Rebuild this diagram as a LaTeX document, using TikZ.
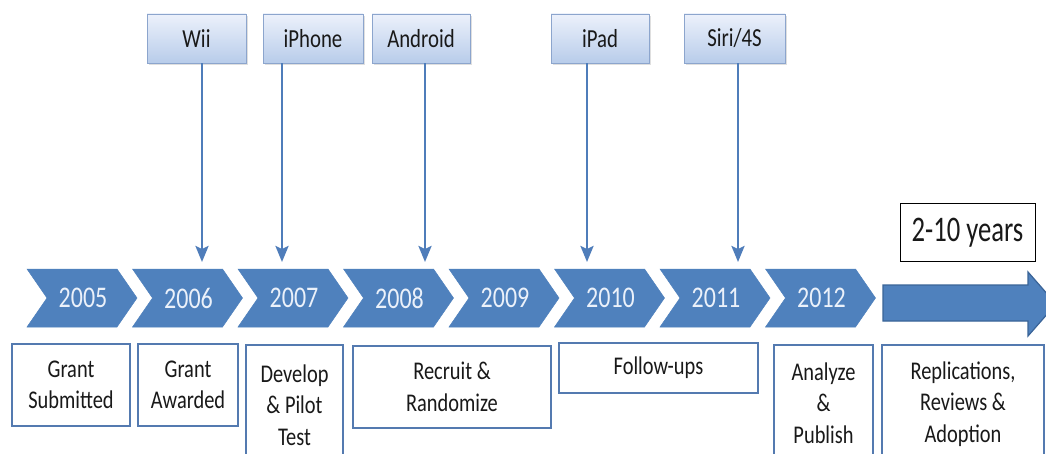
\documentclass[tikz,border=0pt]{standalone}
\usepackage{fontspec}
\setmainfont{Carlito}
\newfontfamily\nfont{Carlito}[FakeStretch=0.8]
\newfontfamily\dfont{Carlito}[FakeStretch=0.74]
\usetikzlibrary{arrows.meta,shadows,calc}
\definecolor{chev}{RGB}{79,129,189}
\definecolor{chevline}{RGB}{58,100,152}
\definecolor{boxline}{RGB}{84,122,176}
\definecolor{connc}{RGB}{79,125,186}
\definecolor{topline}{RGB}{140,165,205}
\definecolor{toptop}{RGB}{236,241,251}
\definecolor{topbot}{RGB}{184,204,234}
\definecolor{yeartext}{RGB}{235,241,250}
\definecolor{txt}{RGB}{25,25,25}
\begin{document}
\begin{tikzpicture}[x=1pt,y=-1pt,
  topbox/.style={draw=topline, line width=0.8pt, top color=toptop, bottom color=topbot,
    minimum width=99pt, minimum height=49pt, inner sep=0pt, text=txt,
    font=\nfont\fontsize{26}{30}\selectfont,
    drop shadow={shadow xshift=1.5pt,shadow yshift=-2pt,opacity=0.25}},
  btmbox/.style={draw=boxline, line width=2.8pt, fill=white, inner sep=0pt, text=txt,
    align=center, font=\nfont\fontsize{25.5}{31.5}\selectfont},
  btmtext/.style={inner sep=0pt, text=txt, align=center, font=\nfont\fontsize{25.5}{31.5}\selectfont},
  yearlbl/.style={inner sep=0pt, text=yeartext, font=\nfont\fontsize{30}{34}\selectfont},
  connector/.style={draw=connc, line width=2.5pt, -{Stealth[length=16pt,width=13pt,inset=3pt]}},
  chevshape/.style={fill=chev, draw=chev, line width=0.5pt},
  durbox/.style={draw=black, line width=0.8pt, fill=white, minimum width=135pt, minimum height=58pt,
    inner sep=0pt, text=txt, font=\dfont\fontsize{36}{40}\selectfont}
]
\useasboundingbox (0,0) rectangle (1046,454);
\clip (0,0) rectangle (1046,454);
\fill[white] (0,0) rectangle (1046,454);

% top event boxes
\node[topbox] (wii) at (196.5,38.5) {Wii};
\node[topbox, minimum width=100pt] (iphone) at (313,38.5) {iPhone};
\node[topbox, minimum width=98pt] (android) at (421,38.5) {Android};
\node[topbox, minimum width=98pt] (ipad) at (600,38.5) {iPad};
\node[topbox, minimum width=101pt] (siri) at (734.5,38.5) {Siri/4S};

% chevrons
\foreach \yr [count=\i from 0] in {2005,2006,2007,2008,2009,2010,2011,2012} {
  \pgfmathsetmacro\xo{27+105.5*\i}
  \path[chevshape] (\xo,269) -- (\xo+90,269) -- (\xo+110,298) -- (\xo+90,327)
    -- (\xo,327) -- (\xo+20,298) -- cycle;
  \node[yearlbl] (y\yr) at (\xo+56,298) {\yr};
}

% big arrow
\path[fill=chev, draw=chevline, line width=1.2pt] (883,285) -- (1028,285) -- (1028,272)
  -- (1056,304) -- (1028,336) -- (1028,321) -- (883,321) -- cycle;

\node[durbox] (dur) at (967.5,232.5) {2-10 years};

% connectors
\coordinate (e1) at (202,262);
\coordinate (e2) at (282,262);
\coordinate (e3) at (425,262);
\coordinate (e4) at (587,262);
\coordinate (e5) at (738,262);
\draw[connector] (wii.south -| e1) -- (e1);
\draw[connector] (iphone.south -| e2) -- (e2);
\draw[connector] (android.south -| e3) -- (e3);
\draw[connector] (ipad.south -| e4) -- (e4);
\draw[connector] (siri.south -| e5) -- (e5);

% bottom boxes
\node[btmbox, minimum width=118pt, minimum height=82pt] (b1) at (71,385) {Grant\\Submitted};
\node[btmbox, minimum width=100pt, minimum height=82pt] (b2) at (188,385) {Grant\\Awarded};
\node[btmbox, minimum width=97pt, minimum height=135pt] (b3) at (294.5,412.5) {};
\node[btmtext] (t3) at (294.5,405) {Develop\\\& Pilot\\Test};
\node[btmbox, minimum width=198pt, minimum height=82pt] (b4) at (452,387) {Recruit \&\\Randomize};
\node[btmbox, minimum width=199pt, minimum height=50pt] (b5) at (658.5,368) {Follow-ups};
\node[btmbox, minimum width=99pt, minimum height=135pt] (b6) at (823.5,412.5) {};
\node[btmtext] (t6) at (823.5,403) {Analyze\\\&\\Publish};
\node[btmbox, minimum width=162pt, minimum height=135pt] (b7) at (963,412.5) {};
\node[btmtext] (t7) at (963,404) {Replications,\\Reviews \&\\Adoption};
\end{tikzpicture}
\end{document}
